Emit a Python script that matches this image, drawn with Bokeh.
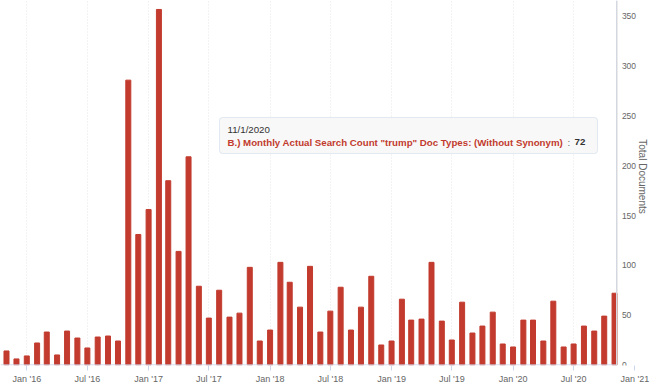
import math
import pandas as pd
from bokeh.plotting import figure
from bokeh.models import (Range1d, FixedTicker, Label, BoxAnnotation, Span,
                          DatetimeTickFormatter)
from bokeh.embed import file_html
from bokeh.resources import INLINE

# ---- data ----
months = pd.date_range("2015-11-01", periods=61, freq="MS")
counts = [14, 6,
          9, 22, 33, 10, 34, 27, 17, 28, 29, 24, 286, 131,
          156, 357, 185, 114, 209, 79, 47, 75, 48, 52, 98, 24,
          35, 103, 83, 58, 99, 33, 54, 78, 35, 58, 89, 20,
          24, 66, 45, 46, 103, 44, 25, 63, 32, 39, 53, 21,
          18, 45, 45, 24, 64, 18, 21, 39, 34, 49, 72]
tick_dates = ["2016-01-01", "2016-07-01", "2017-01-01", "2017-07-01",
              "2018-01-01", "2018-07-01", "2019-01-01", "2019-07-01",
              "2020-01-01", "2020-07-01", "2021-01-01"]
y_ticks = [0, 50, 100, 150, 200, 250, 300, 350]
y_title = "Total Documents"
series_name = 'B.) Monthly Actual Search Count "trump" Doc Types: (Without Synonym)'
tip_date = "11/1/2020"
tip_value = "72"


def ms(d):
    return pd.Timestamp(d).value / 1e6


W, H = 650, 387
FRAME_H = 365
X_START, X_END = ms("2015-10-14"), ms("2021-02-17")
Y_START, Y_END = -0.6, 366
Y_AXIS_AT = ms("2020-11-08")
DAY = 86400000.0
BAR_COLOR = "#c23b2e"
FONT = "Liberation Sans"
GREY = "#666666"
AXIS_LINE = "#ccd6eb"


def px_x(px):
    return X_START + px / W * (X_END - X_START)


def px_y(py):
    return Y_START + (FRAME_H - py) / FRAME_H * (Y_END - Y_START)


p = figure(width=W, height=H, x_axis_type="datetime",
           x_range=Range1d(X_START, X_END), y_range=Range1d(Y_START, Y_END),
           y_axis_location="right",
           output_backend="svg", toolbar_location=None,
           min_border_left=0, min_border_top=0, min_border_bottom=H - FRAME_H,
           min_border_right=0)
p.outline_line_color = None

# x grid (dotted, faint) - only inside the plotted period
p.xgrid.ticker = FixedTicker(ticks=[ms(d) for d in tick_dates if ms(d) < Y_AXIS_AT])
p.xgrid.grid_line_color = "#e6e6e6"
p.xgrid.grid_line_dash = "1 2"
p.ygrid.visible = False

# bars
p.vbar(x=months, top=counts, bottom=0, width=15 * DAY, color=BAR_COLOR)

# x-axis base line, stopping at the y axis
p.segment(x0=[X_START], x1=[Y_AXIS_AT], y0=[0], y1=[0], line_color=AXIS_LINE, line_width=1)

# x axis
xa = p.xaxis[0]
xa.ticker = FixedTicker(ticks=[ms(d) for d in tick_dates])
xa.formatter = DatetimeTickFormatter(days="%b '%y", months="%b '%y", years="%b '%y")
xa.axis_line_color = None
xa.major_tick_line_color = AXIS_LINE
xa.major_tick_out = 5
xa.major_tick_in = 0
xa.minor_tick_out = 0
xa.minor_tick_in = 0
xa.major_label_standoff = 3
xa.major_label_text_font_size = "9px"
xa.major_label_text_color = GREY
xa.major_label_text_font = FONT

# y axis (drawn at a fixed x position, right of the last bar)
ya = p.yaxis[0]
ya.fixed_location = Y_AXIS_AT
ya.ticker = FixedTicker(ticks=y_ticks)
ya.axis_line_color = AXIS_LINE
ya.major_tick_out = 0
ya.major_tick_in = 0
ya.minor_tick_out = 0
ya.minor_tick_in = 0
ya.major_label_standoff = 5
ya.major_label_text_font_size = "8.5px"
ya.major_label_text_color = GREY
ya.major_label_text_font = FONT

# second thin border line just right of the axis line
p.add_layout(Span(location=px_x(616.5), dimension="height", line_color="#d8d8d8", line_width=1))

p.add_layout(Label(x=px_x(642), y=px_y(176), text=y_title, angle=-math.pi / 2,
                   text_align="center", text_baseline="middle", text_font_size="10px",
                   text_color=GREY, text_font=FONT))

# tooltip
p.add_layout(BoxAnnotation(left=px_x(219), right=px_x(597), top=px_y(117), bottom=px_y(153),
                           fill_color="#f7f7f7", fill_alpha=0.9, line_color="#a7bcd6",
                           line_width=1, border_radius=3))
p.add_layout(Label(x=px_x(227), y=px_y(129), text=tip_date, text_baseline="middle",
                   text_font_size="9.7px", text_color="#333333", text_font=FONT))
p.add_layout(Label(x=px_x(227), y=px_y(141.5), text=series_name, text_baseline="middle",
                   text_font_size="9.7px", text_font_style="bold", text_color=BAR_COLOR,
                   text_font=FONT))
p.add_layout(Label(x=px_x(567), y=px_y(141.5), text=":", text_baseline="middle",
                   text_font_size="9.7px", text_color=GREY, text_font=FONT))
p.add_layout(Label(x=px_x(574), y=px_y(141.5), text=tip_value, text_baseline="middle",
                   text_font_size="9.7px", text_font_style="bold", text_color="#333333",
                   text_font=FONT))

open("out.html", "w").write(file_html(p, INLINE))
